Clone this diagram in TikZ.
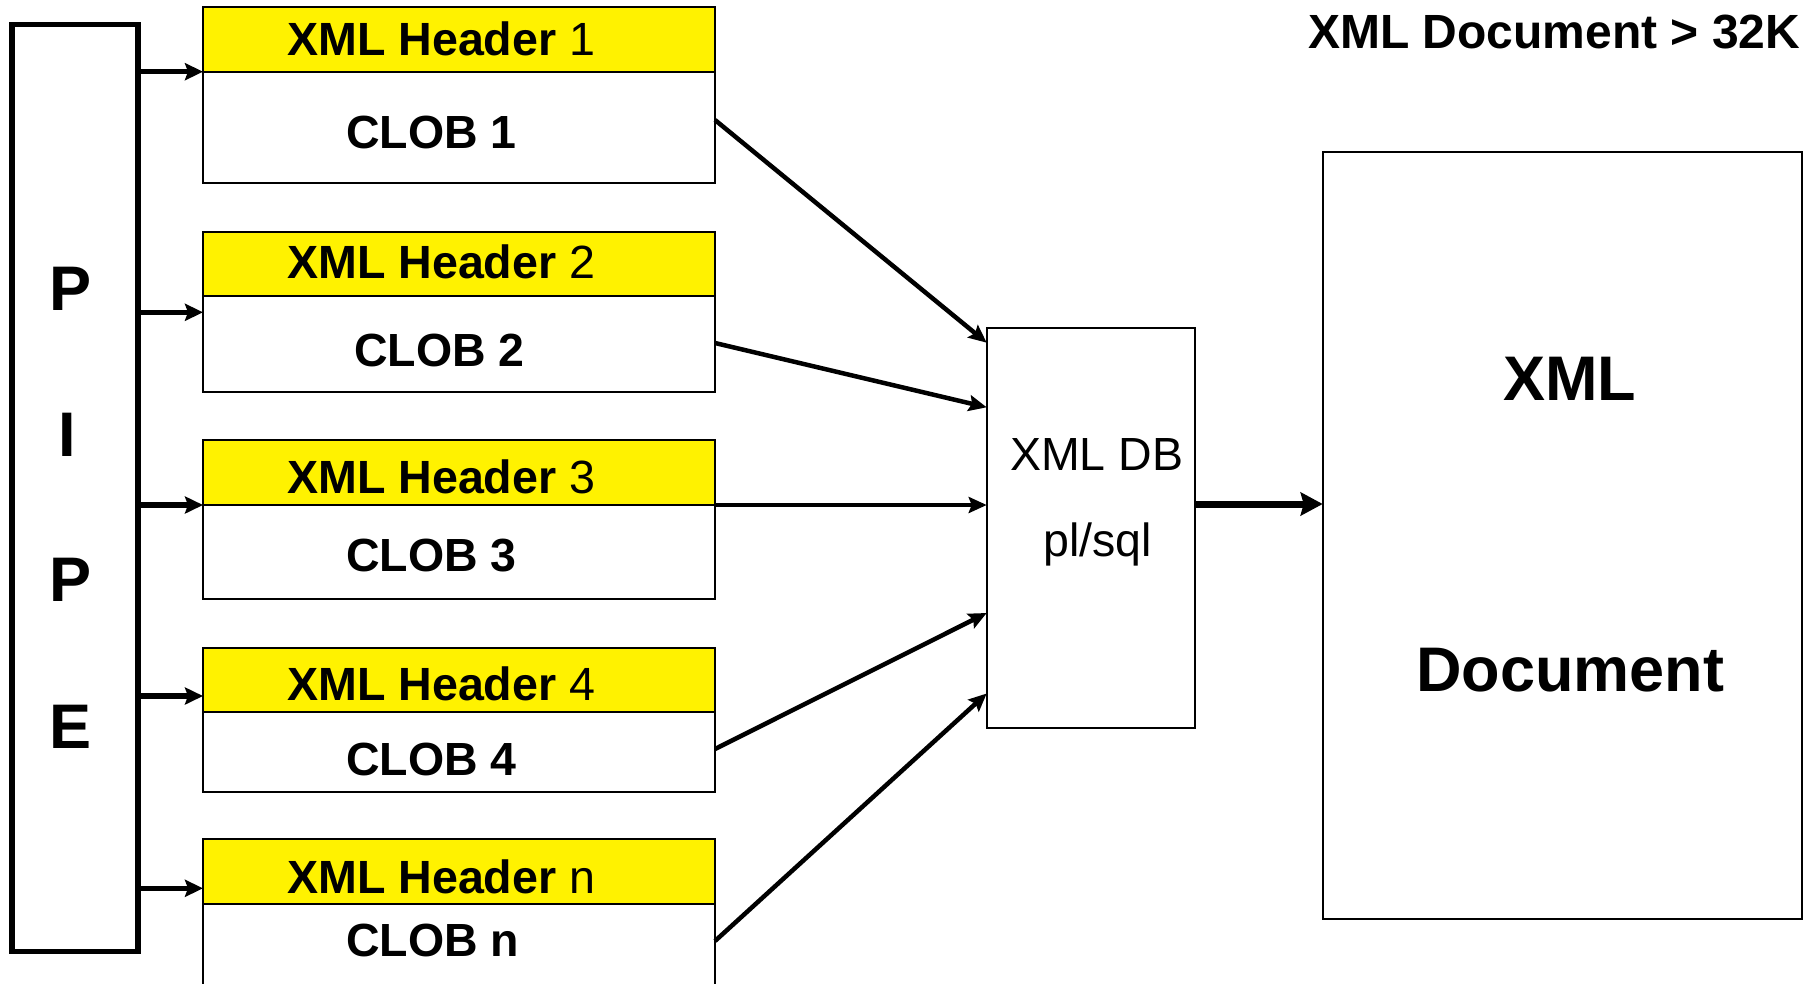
\documentclass[tikz,border=0pt]{standalone}
\usepackage{fontspec}
\setmainfont{Liberation Sans}
\usetikzlibrary{arrows.meta,fit}

\begin{document}
\begin{tikzpicture}[x=1pt,y=-1pt,
  frame/.style={draw=black, line width=2.2pt, inner sep=0pt, outer sep=0pt},
  hdrbox/.style={frame, fill=yellow},
  hdrtxt/.style={anchor=base west, inner sep=0pt, font=\fontsize{46.6}{50}\selectfont},
  clobtxt/.style={anchor=base west, inner sep=0pt, font=\fontsize{46.5}{50}\selectfont\bfseries},
  pipetxt/.style={anchor=base, inner sep=0pt, font=\fontsize{63}{66}\selectfont\bfseries},
  feed/.style={line width=5.5pt, -{Stealth[length=18pt, width=17pt, inset=3pt]}},
  merge/.style={line width=4.5pt, -{Stealth[length=18pt, width=16pt, inset=3pt]}},
  bigarrow/.style={line width=7pt, -{Stealth[length=22pt, width=23pt, inset=3pt]}}
]
\useasboundingbox (0,0) rectangle (1814,983);
\clip (0,0) rectangle (1814,983);

% the pipe
\node[draw, line width=5.5pt, inner sep=0pt, outer sep=0pt, fit={(12.2,24.5) (137.8,951.5)}] (pipe) {};
\node[pipetxt] (pP1) at (71,310) {P};
\node[pipetxt] (pI)  at (67,456) {I};
\node[pipetxt] (pP2) at (71,601.7) {P};
\node[pipetxt] (pE)  at (71,748.3) {E};

% header / CLOB pairs
\node[hdrbox, fit={(203,7.3) (715,71.7)}] (h1) {};
\node[frame,  fit={(203,71.7) (715,183)}] (c1) {};
\node[hdrbox, fit={(203,231.7) (715,295.7)}] (h2) {};
\node[frame,  fit={(203,295.7) (715,391.7)}] (c2) {};
\node[hdrbox, fit={(203,440) (715,505)}] (h3) {};
\node[frame,  fit={(203,505) (715,599.3)}] (c3) {};
\node[hdrbox, fit={(203,647.7) (715,711.7)}] (h4) {};
\node[frame,  fit={(203,711.7) (715,792.3)}] (c4) {};
\node[hdrbox, fit={(203,839.3) (715,904)}] (h5) {};
\node[frame,  fit={(203,904) (715,1010)}] (c5) {};

\node[hdrtxt] (t1) at (287,55)    {\textbf{XML Header} 1};
\node[hdrtxt] (t2) at (287,278.3) {\textbf{XML Header} 2};
\node[hdrtxt] (t3) at (287,493.3) {\textbf{XML Header} 3};
\node[hdrtxt] (t4) at (287,700.7) {\textbf{XML Header} 4};
\node[hdrtxt] (t5) at (287,893.3) {\textbf{XML Header} n};

\node[clobtxt] (l1) at (346,148.3) {CLOB 1};
\node[clobtxt] (l2) at (354,366.7) {CLOB 2};
\node[clobtxt] (l3) at (346,571.7) {CLOB 3};
\node[clobtxt] (l4) at (346,775)   {CLOB 4};
\node[clobtxt] (l5) at (346,956)   {CLOB n};

% XML DB block
\node[frame, fit={(986.7,328.3) (1195.3,727.7)}] (db) {};
\node[anchor=base west, inner sep=0pt, font=\fontsize{46.5}{50}\selectfont] (dbt1) at (1010,470) {XML DB};
\node[anchor=base west, inner sep=0pt, font=\fontsize{46.5}{50}\selectfont] (dbt2) at (1043,556.7) {pl/sql};

% resulting document
\node[frame, fit={(1322.7,151.7) (1801.7,918.6)}] (doc) {};
\node[anchor=base west, inner sep=0pt, font=\fontsize{63}{66}\selectfont\bfseries] (dx) at (1503,400) {XML};
\node[anchor=base west, inner sep=0pt, font=\fontsize{63}{66}\selectfont\bfseries] (dd) at (1416,691.7) {Document};
\node[anchor=base west, inner sep=0pt, font=\fontsize{48}{52}\selectfont\bfseries] (title) at (1308,48.3) {XML Document > 32K};

% pipe feeds
\draw[feed] (pipe.east |- h1.south) -- (h1.south west);
\draw[feed] (pipe.east |- 0,312.3) -- (c2.west |- 0,312.3);
\draw[feed] (pipe.east |- h3.south) -- (h3.south west);
\draw[feed] (pipe.east |- 0,696) -- (h4.west |- 0,696);
\draw[feed] (pipe.east |- 0,888.3) -- (h5.west |- 0,888.3);

% CLOBs into the database
\draw[merge] (c1.east |- 0,120) -- (db.west |- 0,342.7);
\draw[merge] (c2.east |- 0,343) -- (db.west |- 0,407.3);
\draw[merge] (h3.south east) -- (db.west |- 0,505);
\draw[merge] (c4.east |- 0,749) -- (db.west |- 0,613);
\draw[merge] (c5.east |- 0,941) -- (db.west |- 0,693.5);

% database to document
\draw[bigarrow] (db.east |- 0,504) -- (doc.west |- 0,504);
\end{tikzpicture}
\end{document}
